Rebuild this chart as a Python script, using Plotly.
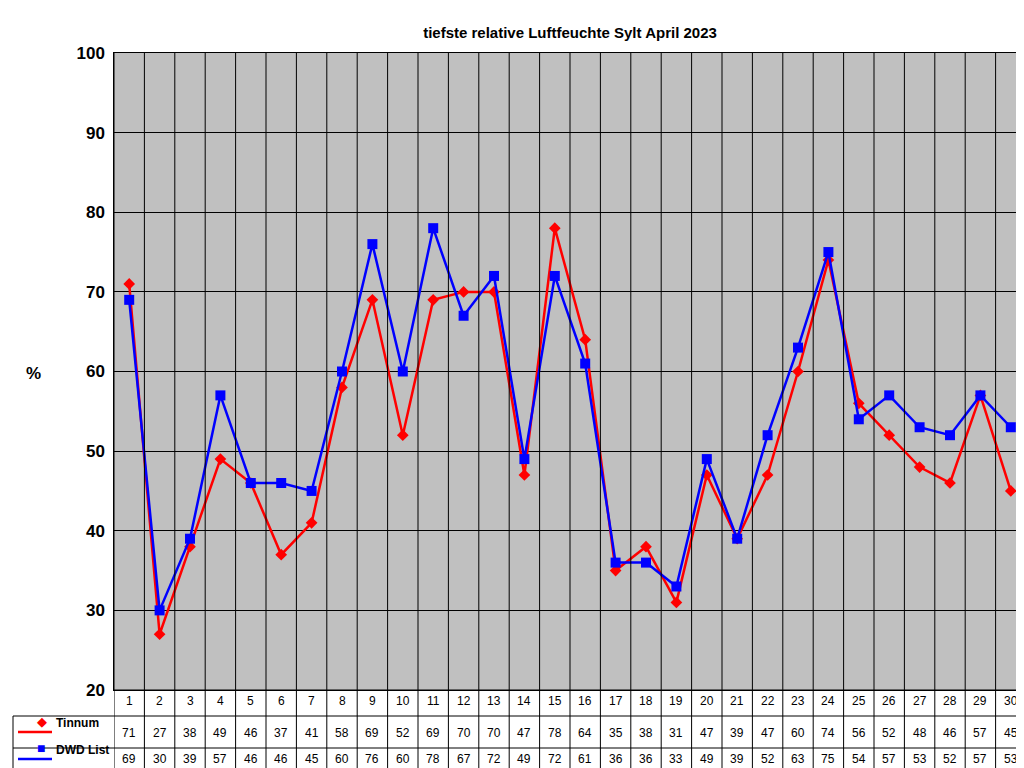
import plotly.graph_objects as go

days = list(range(1, 31))
tinnum = [71,27,38,49,46,37,41,58,69,52,69,70,70,47,78,64,35,38,31,47,39,47,60,74,56,52,48,46,57,45]
dwd = [69,30,39,57,46,46,45,60,76,60,78,67,72,49,72,61,36,36,33,49,39,52,63,75,54,57,53,52,57,53]
series = [("Tinnum", tinnum, "#ff0000", "diamond", 9), ("DWD List", dwd, "#0000ff", "square", 10)]

W, H = 1024, 768
L, R, T, B = 106, 6, 45, 86
pw, ph = W - L - R, H - T - B
def py(px): return (H - B - px) / ph
def pxx(px): return (px - L) / pw

fig = go.Figure()
for name, vals, col, sym, sz in series:
    fig.add_trace(go.Scatter(x=days, y=vals, mode="lines+markers", name=name,
                             line=dict(color=col, width=2.5),
                             marker=dict(symbol=sym, size=sz, color=col)))

shapes = []
# vertical grid lines incl. through table
for i in range(31):
    xb = i + 0.5
    shapes.append(dict(type="line", xref="x", yref="paper", x0=xb, x1=xb, y0=py(762), y1=1,
                       line=dict(color="black", width=1)))
shapes.append(dict(type="line", xref="paper", yref="paper", x0=pxx(5), x1=pxx(5), y0=py(762), y1=py(708),
                   line=dict(color="black", width=1)))
for yy in [682, 708, 740, 762]:
    x0 = pxx(5) if yy != 682 else 0
    shapes.append(dict(type="line", xref="paper", yref="paper", x0=x0 if yy != 682 else 0, x1=1,
                       y0=py(yy), y1=py(yy), line=dict(color="black", width=1)))
# legend keys
for (name, vals, col, sym, sz), yc in zip(series, [724, 751]):
    shapes.append(dict(type="line", xref="paper", yref="paper", x0=pxx(10), x1=pxx(44),
                       y0=py(yc), y1=py(yc), line=dict(color=col, width=2.5)))

ann = []
rows = [(days, 693), (tinnum, 725), (dwd, 751)]
for vals, yc in rows:
    for d, v in zip(days, vals):
        ann.append(dict(x=d, y=py(yc), xref="x", yref="paper", text=str(v), showarrow=False,
                        font=dict(size=12, color="black", family="Liberation Sans"), yanchor="middle"))
for (name, vals, col, sym, sz), yc in zip(series, [724, 751]):
    ann.append(dict(x=pxx(46), y=py(yc), xref="paper", yref="paper", text="<b>%s</b>" % name,
                    showarrow=False, xanchor="left", font=dict(size=12, color="black", family="Liberation Sans")))
ann.append(dict(x=pxx(16), y=py(365), xref="paper", yref="paper", text="<b>%</b>", showarrow=False,
                font=dict(size=17, color="black", family="Liberation Sans")))

# legend key markers as scatter in paper? use annotations with symbols
ann.append(dict(x=pxx(27), y=py(724), xref="paper", yref="paper", text="◆", showarrow=False,
                font=dict(size=13, color="#ff0000")))
ann.append(dict(x=pxx(27), y=py(751), xref="paper", yref="paper", text="■", showarrow=False,
                font=dict(size=14, color="#0000ff")))

fig.update_layout(
    width=W, height=H, margin=dict(l=L, r=R, t=T, b=B),
    paper_bgcolor="white", plot_bgcolor="#c0c0c0", showlegend=False,
    title=dict(text="<b>tiefste relative Luftfeuchte Sylt April 2023</b>", x=0.5, xref="paper", y=0.975,
               font=dict(size=15, color="black", family="Liberation Sans")),
    xaxis=dict(range=[0.5, 30.5], showticklabels=False, showgrid=False, zeroline=False,
               showline=True, linecolor="black", mirror=True),
    yaxis=dict(range=[20, 100], dtick=10, showgrid=True, gridcolor="black", gridwidth=1, zeroline=False,
               showline=True, linecolor="black", mirror=True, ticks="",
               tickfont=dict(size=17, color="black", family="Liberation Sans"), tickprefix="<b>", ticksuffix="</b> "),
    shapes=shapes, annotations=ann,
)
fig.write_html("out.html")
